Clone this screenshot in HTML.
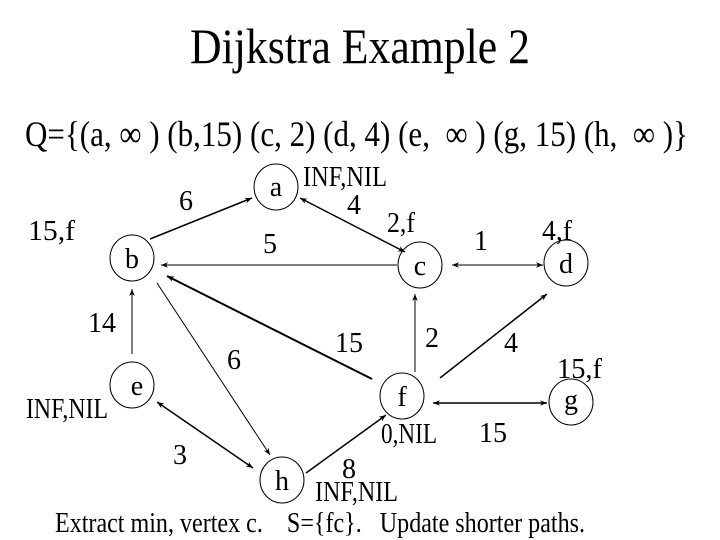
<!DOCTYPE html>
<html><head><meta charset="utf-8"><style>html,body{margin:0;padding:0;background:#fff}svg{display:block}text{white-space:pre}</style></head>
<body>
<svg width="720" height="540" viewBox="0 0 720 540" xmlns="http://www.w3.org/2000/svg" font-family="Liberation Serif, serif" fill="#000" xml:space="preserve">
<defs>
<marker id="ah" viewBox="0 0 10 10" refX="10" refY="5" markerWidth="7" markerHeight="7" orient="auto-start-reverse" markerUnits="userSpaceOnUse"><path d="M0,1 L10,5 L0,9 L3,5 z" fill="#000"/></marker>
</defs>
<text x="360" y="63" font-size="50" text-anchor="middle" textLength="340" lengthAdjust="spacingAndGlyphs">Dijkstra Example 2</text>
<text x="25" y="146" font-size="36" textLength="663" lengthAdjust="spacingAndGlyphs">Q={(a, ∞ ) (b,15) (c, 2) (d, 4) (e,  ∞ ) (g, 15) (h,  ∞ )}</text>
<g fill="none" stroke="#000" stroke-width="1">
<ellipse cx="276" cy="187" rx="22" ry="23"/>
<ellipse cx="132" cy="258" rx="22" ry="23"/>
<ellipse cx="420" cy="265" rx="22" ry="23"/>
<ellipse cx="566" cy="263" rx="22" ry="23"/>
<ellipse cx="132" cy="385" rx="22" ry="23"/>
<ellipse cx="402" cy="396" rx="22" ry="23"/>
<ellipse cx="571" cy="402" rx="22" ry="23"/>
<ellipse cx="282" cy="480" rx="22" ry="23"/>
<line x1="150" y1="239" x2="252" y2="198" marker-end="url(#ah)" stroke-width="1.5"/>
<line x1="300" y1="198" x2="405" y2="252" marker-start="url(#ah)" marker-end="url(#ah)" stroke-width="1.5"/>
<line x1="397" y1="265" x2="161" y2="265" marker-end="url(#ah)"/>
<line x1="452" y1="265" x2="543" y2="265" marker-start="url(#ah)" marker-end="url(#ah)"/>
<line x1="132" y1="354" x2="132" y2="289" marker-end="url(#ah)"/>
<line x1="157" y1="283" x2="270" y2="455" marker-end="url(#ah)"/>
<line x1="372" y1="379" x2="167" y2="276" marker-end="url(#ah)" stroke-width="2"/>
<line x1="415" y1="372" x2="415" y2="294" marker-end="url(#ah)"/>
<line x1="440" y1="378" x2="547" y2="294" marker-end="url(#ah)" stroke-width="1.5"/>
<line x1="433" y1="403" x2="547" y2="403" marker-start="url(#ah)" marker-end="url(#ah)" stroke-width="1.5"/>
<line x1="157" y1="402" x2="253" y2="468" marker-start="url(#ah)" marker-end="url(#ah)" stroke-width="1.5"/>
<line x1="306" y1="473" x2="386" y2="415" marker-end="url(#ah)" stroke-width="1.5"/>
</g>
<g font-size="28" text-anchor="middle">
<text x="276" y="196">a</text>
<text x="132" y="268">b</text>
<text x="420" y="275">c</text>
<text x="566" y="273">d</text>
<text x="137" y="395">e</text>
<text x="402" y="406">f</text>
<text x="571" y="409">g</text>
<text x="282" y="490">h</text>
<text x="186" y="210">6</text>
<text x="354" y="214">4</text>
<text x="270" y="253">5</text>
<text x="481" y="250">1</text>
<text x="102" y="332">14</text>
<text x="349" y="352">15</text>
<text x="432" y="347">2</text>
<text x="511" y="352">4</text>
<text x="234" y="369">6</text>
<text x="493" y="442">15</text>
<text x="180" y="464">3</text>
<text x="349" y="478">8</text>
</g>
<g font-size="28">
<text x="303" y="186" textLength="84" lengthAdjust="spacingAndGlyphs">INF,NIL</text>
<text x="387" y="232" textLength="28" lengthAdjust="spacingAndGlyphs">2,f</text>
<text x="542" y="240" textLength="30" lengthAdjust="spacingAndGlyphs">4,f</text>
<text x="28" y="240" textLength="47" lengthAdjust="spacingAndGlyphs">15,f</text>
<text x="557" y="378" textLength="45" lengthAdjust="spacingAndGlyphs">15,f</text>
<text x="26" y="418" textLength="82" lengthAdjust="spacingAndGlyphs">INF,NIL</text>
<text x="381" y="443" textLength="56" lengthAdjust="spacingAndGlyphs">0,NIL</text>
<text x="315" y="501" textLength="83" lengthAdjust="spacingAndGlyphs">INF,NIL</text>
<text x="55" y="532" textLength="530" lengthAdjust="spacingAndGlyphs">Extract min, vertex c.    S={fc}.   Update shorter paths.</text>
</g>
</svg>
</body></html>
